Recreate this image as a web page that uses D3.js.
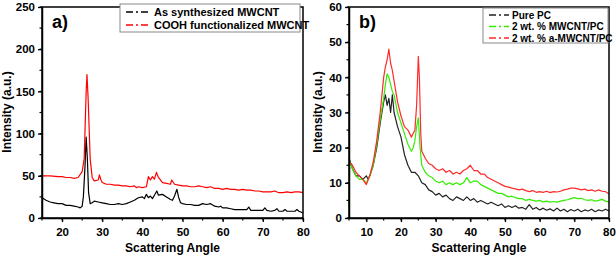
<!DOCTYPE html>
<html>
<head>
<meta charset="utf-8">
<script src="https://cdn.jsdelivr.net/npm/d3@7"></script>
<style>
body { margin: 0; background: #fff; }
text { font-family: "Liberation Sans", Arial, sans-serif; font-weight: bold; }
</style>
</head>
<body>
<div id="chart"></div>
<script>
var W = 616, H = 258;

// panel a) data
var aX = [15,16,17,18,19,20,21,22,23,24,24.5,25,25.3,25.7,26,26.3,26.6,27,27.5,28,29,30,31,32,33,34,35,36,37,38,39,40,40.5,41,41.5,42,42.5,43,43.6,44,45,46,47,47.5,48,48.6,49,49.5,50,51,52,53,54,55,56,57,58,59,59.5,60,61,62,63,64,65,66,66.5,67,68,69,70,70.5,71,72,73,73.5,74,75,75.5,76,77,78,78.5,79,80];
var aBlack = [24,21,19,18,17,17,15,15,14,13,12,14,25,60,96,70,30,17,18,20,19,18,17,16,16,17,16,17,19,21,24,25,23,28,24,26,23,27,32,27,28,25,22,21,26,34,25,18,17,16,16,15,15,17,16,17,14,13,14,12,12,11,10,10,10,10,13,9,9,9,9,12,9,8,9,11,8,8,10,8,8,8,10,8,6];
var aRedX = [15,17,19,20,21,22,23,24,25,25.5,26,26.2,26.5,27,27.5,28,29,29.3,29.7,30,31,32,33,34,35,36,37,38,38.5,39,40,41,41.5,42,42.5,43,43.5,44,45,46,47,47.3,48,49,50,51,52,53,54,55,56,57,58,59,60,61,62,63,64,65,66,67,68,69,70,71,72,73,74,75,76,77,78,79,80];
var aRed = [50,50,49,49,48,48,47,48,55,70,150,170,140,70,48,44,45,51,45,42,40,40,39,39,38,38,37,38,36,37,36,37,49,45,49,46,54,48,42,41,40,45,40,39,38,38,37,37,38,37,36,37,35,35,34,35,34,34,33,34,33,33,32,32,31,31,31,32,30,30,31,30,31,31,30];
var aTicksY = [0,50,100,150,200,250];
var aTicksX = [20,30,40,50,60,70,80];
var aLegend = ["As synthesized MWCNT", "COOH functionalized MWCNT"];

// panel b) data
var bBlackX = [5,6,7,8,9,10,10.5,11,12,13,14,15,15.5,16,16.5,17,17.5,18,19,20,21,22,23,24,25,26,27,28,29,30,31,32,33,34,35,36,37,38,39,40,41,42,43,44,45,46,47,48,49,50,51,52,53,54,55,56,57,58,59,60,61,62,63,64,65,66,67,68,69,70,71,72,73,74,75,76,77,78,79,80];
var bBlack = [17,14,12,12,11,12,11,12,15,20,27,33,35,32,34,30,35,30,26,23,18,15,13,13,12,10,9.5,8,7.5,6.5,7,6,6.5,5.5,5,6,5.5,5,6,5,5.5,4.5,5,4.5,4,4.5,4,3.5,4,3,3.5,3,3.5,2.8,3,2.5,3.8,2.5,3,2.3,2.8,2.2,2.6,2,2.8,2,2.5,1.8,2.4,2,2.5,1.8,2.3,2,2.5,1.8,2.3,2,2.5,2];
var bGreenX = [5,5.2,6,7,8,9,10,11,12,13,14,15,15.5,16,16.5,17,17.5,18,19,20,21,22,22.5,23,23.5,24,24.5,25,25.5,26,27,28,29,30,31,32,33,34,35,36,37,38,39,40,41,42,43,44,45,46,47,48,49,50,51,52,53,54,55,56,57,58,59,60,61,62,63,64,65,66,67,68,69,70,71,72,73,74,75,76,77,78,79,80];
var bGreen = [3,16,14,12,11,11,10,12,15,21,28,34,38,41,40,38,36,35,30,27,24,21,20,19,20,22,26,28.5,20,15,13,12,11.5,10.5,10,10.5,9.5,10,9.5,10,9.5,10,11.5,10,10.5,10.5,9.5,9,8.5,8,7.5,7,7,6.5,6,6.2,5.8,5.5,5.5,5,5.3,5,4.8,5,4.6,4.8,4.5,4.7,4.5,4.8,5,5.2,5.5,5.8,5.5,5.6,5.2,5,5.2,4.8,5,5.3,4.8,4.5];
var bRedX = [5,6,7,8,9,10,11,12,13,14,15,15.5,16,16.5,17,17.5,18,19,20,21,22,23,23.5,24,24.5,25,25.3,25.7,26,27,28,29,30,31,32,33,34,35,36,37,38,39,40,41,42,43,44,45,46,47,48,49,50,51,52,53,54,55,56,57,58,59,60,61,62,63,64,65,66,67,68,69,70,71,72,73,74,75,76,77,78,79,80];
var bRed = [16,15,13,12,11,9.5,12,16,22,30,40,43,45,48,44,42,39,33,29,26,25,23,24,25,32,46,40,24,19,17,15.5,15,14,13.5,14,13,13.5,12.5,13,12.5,13.5,14,15,13.5,13.5,12.5,12.5,11.5,11,10.5,10,9.5,9,8.8,8.5,8.3,8,8.2,7.8,7.5,7.8,7.3,7.5,7.3,7.6,7.2,7.5,7.4,7.6,8,8.2,8.5,8.5,8.3,8,8.2,7.8,8,7.6,8,7.6,7.5,6.8];
var bTicksY = [0,10,20,30,40,50,60];
var bTicksX = [10,20,30,40,50,60,70,80];
var bLegend = ["Pure PC", "2 wt. % MWCNT/PC", "2 wt. % a-MWCNT/PC"];

var svg = d3.select("#chart").append("svg")
    .attr("width", W).attr("height", H);

function panel(opt) {
  var g = svg.append("g");
  var x = d3.scaleLinear().domain(opt.xd).range([opt.l, opt.r]);
  var y = d3.scaleLinear().domain(opt.yd).range([218, 7]);

  var xAxis = d3.axisBottom(x).tickValues(opt.tx).tickSize(4).tickSizeOuter(0);
  var yAxis = d3.axisLeft(y).tickValues(opt.ty).tickSize(4).tickSizeOuter(0);

  // minor ticks
  var mx = d3.range(opt.xd[0], opt.xd[1] + 0.01, 5);
  g.selectAll(".mx").data(mx).enter().append("line")
    .attr("x1", function(d) { return x(d); }).attr("x2", function(d) { return x(d); })
    .attr("y1", 218).attr("y2", 220.5).attr("stroke", "#000").attr("stroke-width", 1.2);
  var my = d3.range(opt.yd[0], opt.yd[1] + 0.01, opt.minorY);
  g.selectAll(".my").data(my).enter().append("line")
    .attr("x1", opt.l - 2.5).attr("x2", opt.l)
    .attr("y1", function(d) { return y(d); }).attr("y2", function(d) { return y(d); })
    .attr("stroke", "#000").attr("stroke-width", 1.2);

  var line = d3.line().x(function(d) { return x(d[0]); }).y(function(d) { return y(d[1]); });
  opt.series.forEach(function(s) {
    g.append("path").datum(d3.zip(s.x, s.y))
      .attr("fill", "none").attr("stroke", s.c).attr("stroke-width", 1.2)
      .attr("stroke-linejoin", "round").attr("d", line);
  });

  g.append("rect").attr("x", opt.l).attr("y", 7).attr("width", opt.r - opt.l).attr("height", 211)
    .attr("fill", "none").attr("stroke", "#000").attr("stroke-width", 1.5);

  var gx = g.append("g").attr("transform", "translate(0,218)").call(xAxis);
  var gy = g.append("g").attr("transform", "translate(" + opt.l + ",0)").call(yAxis);
  [gx, gy].forEach(function(a) {
    a.select(".domain").attr("stroke-width", 1.5);
    a.selectAll(".tick line").attr("stroke-width", 1.3);
    a.selectAll("text").style("font-size", "11.5px").attr("fill", "#000");
  });
  gx.selectAll("text").attr("dy", "0.95em");

  g.append("text").attr("x", (opt.l + opt.r) / 2).attr("y", 252)
    .attr("text-anchor", "middle").style("font-size", "12px").text("Scattering Angle");
  g.append("text").attr("transform", "translate(" + (opt.l - opt.yt) + ",112) rotate(-90)")
    .attr("text-anchor", "middle").style("font-size", "12px").text("Intensity (a.u.)");
  g.append("text").attr("x", opt.l + 10).attr("y", 28).style("font-size", "18px").text(opt.label);

  // legend
  var lg = opt.legend;
  g.append("rect").attr("x", lg.x).attr("y", lg.y).attr("width", lg.w).attr("height", lg.h)
    .attr("fill", "#fff").attr("stroke", "#888").attr("stroke-width", 1);
  lg.names.forEach(function(n, i) {
    var yy = lg.y + lg.first + i * lg.step;
    g.append("line").attr("x1", lg.x + 6).attr("x2", lg.x + lg.sw)
      .attr("y1", yy).attr("y2", yy).attr("stroke", opt.series[i].c)
      .attr("stroke-width", 1.3).attr("stroke-dasharray", "7,3,2,3");
    g.append("text").attr("x", lg.x + lg.sw + 3).attr("y", yy).attr("dy", "0.35em")
      .style("font-size", lg.fs).text(n);
  });
}

panel({
  l: 42, r: 303, xd: [15, 80], yd: [0, 250], tx: aTicksX, ty: aTicksY, minorY: 25, label: "a)", yt: 31,
  series: [{x: aX, y: aBlack, c: "#000"}, {x: aRedX, y: aRed, c: "#ff0000"}],
  legend: {x: 120, y: 4, w: 180, h: 28, first: 8, step: 13, sw: 31, fs: "11px", names: aLegend}
});

panel({
  l: 349, r: 609, xd: [5, 80], yd: [0, 60], tx: bTicksX, ty: bTicksY, minorY: 5, label: "b)", yt: 27,
  series: [{x: bBlackX, y: bBlack, c: "#222"}, {x: bGreenX, y: bGreen, c: "#33ee00"}, {x: bRedX, y: bRed, c: "#ff2a2a"}],
  legend: {x: 483, y: 8, w: 125, h: 35, first: 7, step: 11.5, sw: 26, fs: "10px", names: bLegend}
});
</script>
</body>
</html>
